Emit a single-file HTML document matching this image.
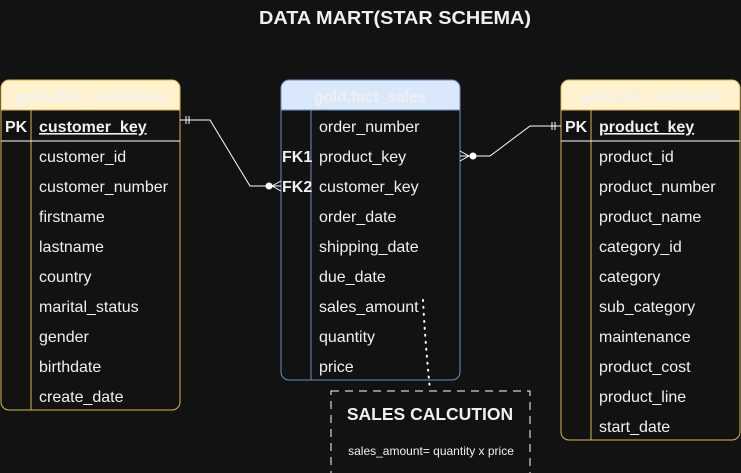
<!DOCTYPE html>
<html><head><style>
html,body{margin:0;padding:0;background:#121212;}
svg{display:block;}
text{font-family:"Liberation Sans",Arial,sans-serif;fill:#f0f0f0;}
</style></head><body>
<svg width="741" height="473" viewBox="0 0 741 473" xmlns="http://www.w3.org/2000/svg">
<rect width="741" height="473" fill="#121212"/>
<text x="395" y="24" text-anchor="middle" font-size="18" font-weight="bold" fill="#fff" textLength="272" lengthAdjust="spacingAndGlyphs">DATA MART(STAR SCHEMA)</text>

<!-- customers -->
<path d="M1,110 V88 a8,8 0 0 1 8,-8 H172 a8,8 0 0 1 8,8 V110 Z" fill="#fff2cc" stroke="#d6b656"/>
<path d="M1,110 H180 V402 a8,8 0 0 1 -8,8 H9 a8,8 0 0 1 -8,-8 Z" fill="#121212" stroke="#d6b656"/>
<line x1="31" y1="110" x2="31" y2="410" stroke="#d6b656"/>
<line x1="1" y1="141" x2="180" y2="141" stroke="#fff"/>
<text x="90" y="102" text-anchor="middle" font-size="15.5" font-weight="bold" fill="#fff">gold.dim_customers</text>
<g font-size="16">
<text x="5" y="132" font-weight="bold">PK</text>
<text x="39" y="132" font-weight="bold" text-decoration="underline">customer_key</text>
<text x="39" y="162">customer_id</text>
<text x="39" y="192">customer_number</text>
<text x="39" y="222">firstname</text>
<text x="39" y="252">lastname</text>
<text x="39" y="282">country</text>
<text x="39" y="312">marital_status</text>
<text x="39" y="342">gender</text>
<text x="39" y="372">birthdate</text>
<text x="39" y="402">create_date</text>
</g>

<!-- fact -->
<path d="M281,110 V88 a8,8 0 0 1 8,-8 H452 a8,8 0 0 1 8,8 V110 Z" fill="#dae8fc" stroke="#6c8ebf"/>
<path d="M281,110 H460 V372 a8,8 0 0 1 -8,8 H289 a8,8 0 0 1 -8,-8 Z" fill="#121212" stroke="#6c8ebf"/>
<line x1="311" y1="110" x2="311" y2="380" stroke="#6c8ebf"/>
<text x="370" y="102" text-anchor="middle" font-size="15.5" font-weight="bold" fill="#fff">gold.fact_sales</text>
<g font-size="16">
<text x="319" y="132">order_number</text>
<text x="282" y="162" font-weight="bold">FK1</text>
<text x="319" y="162">product_key</text>
<text x="282" y="192" font-weight="bold">FK2</text>
<text x="319" y="192">customer_key</text>
<text x="319" y="222">order_date</text>
<text x="319" y="252">shipping_date</text>
<text x="319" y="282">due_date</text>
<text x="319" y="312">sales_amount</text>
<text x="319" y="342">quantity</text>
<text x="319" y="372">price</text>
</g>

<!-- products -->
<path d="M561,110 V88 a8,8 0 0 1 8,-8 H732 a8,8 0 0 1 8,8 V110 Z" fill="#fff2cc" stroke="#d6b656"/>
<path d="M561,110 H740 V432 a8,8 0 0 1 -8,8 H569 a8,8 0 0 1 -8,-8 Z" fill="#121212" stroke="#d6b656"/>
<line x1="591" y1="110" x2="591" y2="440" stroke="#d6b656"/>
<line x1="561" y1="141" x2="740" y2="141" stroke="#fff"/>
<text x="650" y="102" text-anchor="middle" font-size="15.5" font-weight="bold" fill="#fff">gold.dim_products</text>
<g font-size="16">
<text x="565" y="132" font-weight="bold">PK</text>
<text x="599" y="132" font-weight="bold" text-decoration="underline">product_key</text>
<text x="599" y="162">product_id</text>
<text x="599" y="192">product_number</text>
<text x="599" y="222">product_name</text>
<text x="599" y="252">category_id</text>
<text x="599" y="282">category</text>
<text x="599" y="312">sub_category</text>
<text x="599" y="342">maintenance</text>
<text x="599" y="372">product_cost</text>
<text x="599" y="402">product_line</text>
<text x="599" y="432">start_date</text>
</g>

<!-- connectors -->
<g stroke="#fff" fill="none" stroke-width="1">
<path d="M180,120 H210 L250,186 H281"/>
<line x1="186" y1="116" x2="186" y2="124"/><line x1="189" y1="116" x2="189" y2="124"/>
<path d="M281,181 L272,186 L281,191"/>
<path d="M460,156 H490 L530,126 H561"/>
<line x1="552" y1="122" x2="552" y2="130"/><line x1="555" y1="122" x2="555" y2="130"/>
<path d="M460,151 L469,156 L460,161"/>
<path d="M423,300 Q425,340 430,390" stroke-dasharray="1,6" stroke-width="2" stroke-linecap="round"/>
<rect x="331" y="391" width="199" height="90" stroke-dasharray="8,6"/>
</g>
<circle cx="269" cy="186" r="3.5" fill="#fff"/>
<circle cx="473" cy="156" r="3.5" fill="#fff"/>

<text x="430" y="420" text-anchor="middle" font-size="17.5" font-weight="bold" fill="#fff">SALES CALCUTION</text>
<text x="431" y="455" text-anchor="middle" font-size="12">sales_amount= quantity x price</text>
</svg>
</body></html>
